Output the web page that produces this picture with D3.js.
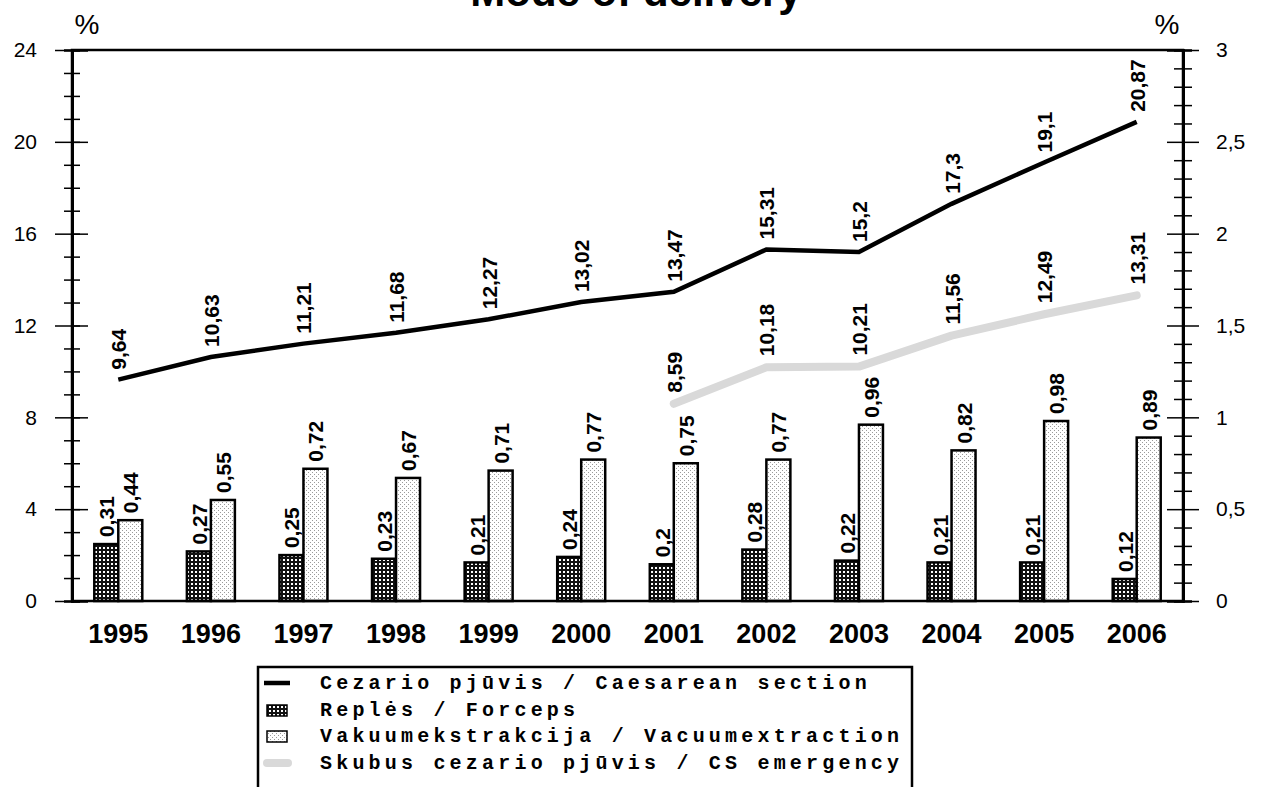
<!DOCTYPE html>
<html>
<head>
<meta charset="utf-8">
<script src="https://cdn.jsdelivr.net/npm/d3@7"></script>
<style>
  body { margin: 0; background: #fff; }
  svg { display: block; }
</style>
</head>
<body>
<div class="visHolder"></div>
<script>
// data
let years = ['1995','1996','1997','1998','1999','2000','2001','2002','2003','2004','2005','2006'];
let caesarean = [9.64, 10.63, 11.21, 11.68, 12.27, 13.02, 13.47, 15.31, 15.2, 17.3, 19.1, 20.87];
let emergency = [null, null, null, null, null, null, 8.59, 10.18, 10.21, 11.56, 12.49, 13.31];
let forceps = [0.31, 0.27, 0.25, 0.23, 0.21, 0.24, 0.2, 0.28, 0.22, 0.21, 0.21, 0.12];
let vacuum = [0.44, 0.55, 0.72, 0.67, 0.71, 0.77, 0.75, 0.77, 0.96, 0.82, 0.98, 0.89];
let leftTicks = [0, 4, 8, 12, 16, 20, 24];
let rightTicks = [0, 0.5, 1, 1.5, 2, 2.5, 3];
let legendLabels = [
  'Cezario pjūvis / Caesarean section',
  'Replės / Forceps',
  'Vakuumekstrakcija / Vacuumextraction',
  'Skubus cezario pjūvis / CS emergency'
];

let width = 1261;
let height = 787;
let plotL = 72, plotR = 1183, plotT = 50, plotB = 601;
let sans = 'Arial, "Liberation Sans", sans-serif';
let comma = d => String(d).replace('.', ',');

let svg = d3.select('.visHolder').append('svg')
  .attr('width', width)
  .attr('height', height);

let defs = svg.append('defs');
let pf = defs.append('pattern').attr('id', 'forceps')
  .attr('patternUnits', 'userSpaceOnUse').attr('width', 4).attr('height', 4);
pf.append('rect').attr('width', 4).attr('height', 4).attr('fill', '#fff');
pf.append('rect').attr('x', 1).attr('y', 0).attr('width', 2).attr('height', 4).attr('fill', '#111');
pf.append('rect').attr('x', 0).attr('y', 1).attr('width', 4).attr('height', 2).attr('fill', '#111');

let pv = defs.append('pattern').attr('id', 'vacuum')
  .attr('patternUnits', 'userSpaceOnUse').attr('width', 4).attr('height', 4);
pv.append('rect').attr('width', 4).attr('height', 4).attr('fill', '#fff');
pv.append('rect').attr('x', 0).attr('y', 0).attr('width', 1).attr('height', 1).attr('fill', '#9a9a9a');
pv.append('rect').attr('x', 2).attr('y', 2).attr('width', 1).attr('height', 1).attr('fill', '#9a9a9a');

// scales
let xScale = d3.scaleBand().domain(years).range([plotL, plotR]).padding(0);
let yLeft = d3.scaleLinear().domain([0, 24]).range([plotB, plotT]);
let yRight = d3.scaleLinear().domain([0, 3]).range([plotB, plotT]);
let cx = d => xScale(d) + xScale.bandwidth() / 2;
let barW = 24;

// title (cut off at the top like the source)
svg.append('text')
  .attr('x', 636).attr('y', 6)
  .attr('text-anchor', 'middle')
  .style('font', 'bold 42px ' + sans)
  .text('Mode of delivery');

svg.append('text').attr('x', 87).attr('y', 34).attr('text-anchor', 'middle')
  .style('font', '28px ' + sans).text('%');
svg.append('text').attr('x', 1167).attr('y', 34).attr('text-anchor', 'middle')
  .style('font', '28px ' + sans).text('%');

// bars
let bars = svg.append('g');
years.forEach((yr, i) => {
  bars.append('rect')
    .attr('x', cx(yr) - barW).attr('y', yRight(forceps[i]))
    .attr('width', barW).attr('height', plotB - yRight(forceps[i]))
    .attr('fill', 'url(#forceps)').attr('stroke', '#000').attr('stroke-width', 2.5);
  bars.append('rect')
    .attr('x', cx(yr)).attr('y', yRight(vacuum[i]))
    .attr('width', barW).attr('height', plotB - yRight(vacuum[i]))
    .attr('fill', 'url(#vacuum)').attr('stroke', '#000').attr('stroke-width', 2.5);
});

// lines
let line = d3.line()
  .defined(d => d.v != null)
  .x(d => cx(d.year))
  .y(d => yLeft(d.v));

svg.append('path')
  .datum(years.map((y, i) => ({ year: y, v: emergency[i] })))
  .attr('d', line)
  .attr('fill', 'none').attr('stroke', '#d9d9d9')
  .attr('stroke-width', 8).attr('stroke-linecap', 'round').attr('stroke-linejoin', 'round');

svg.append('path')
  .datum(years.map((y, i) => ({ year: y, v: caesarean[i] })))
  .attr('d', line)
  .attr('fill', 'none').attr('stroke', '#000')
  .attr('stroke-width', 4.5);

// data labels (rotated)
function vlabel(x, y, txt) {
  svg.append('text')
    .attr('transform', 'translate(' + (x + 8) + ',' + y + ') rotate(-90)')
    .style('font', 'bold 21px ' + sans)
    .text(txt);
}
years.forEach((yr, i) => {
  vlabel(cx(yr), yLeft(caesarean[i]) - 10, comma(caesarean[i]));
  if (emergency[i] != null) vlabel(cx(yr), yLeft(emergency[i]) - 11, comma(emergency[i]));
  vlabel(cx(yr) - barW / 2, yRight(forceps[i]) - 7, comma(forceps[i]));
  vlabel(cx(yr) + barW / 2, yRight(vacuum[i]) - 7, comma(vacuum[i]));
});

// frame
svg.append('rect')
  .attr('x', plotL).attr('y', plotT)
  .attr('width', plotR - plotL).attr('height', plotB - plotT)
  .attr('fill', 'none').attr('stroke', '#000').attr('stroke-width', 2.5);

// left axis
let minorL = d3.range(0, 24, 1).filter(v => v % 4 !== 0);
let gl = svg.append('g').attr('transform', 'translate(' + plotL + ',0)');
gl.call(d3.axisLeft(yLeft).tickValues(leftTicks).tickSizeInner(17).tickSizeOuter(0).tickPadding(18));
gl.append('g').call(d3.axisLeft(yLeft).tickValues(minorL).tickSize(8).tickFormat(''));
gl.append('g').call(d3.axisRight(yLeft).tickValues(d3.range(0, 24, 1)).tickSize(8).tickFormat(''));
gl.append('g').call(d3.axisRight(yLeft).tickValues(leftTicks.slice(1, -1)).tickSize(16).tickFormat(''));

// right axis
let minorR = d3.range(1, 30).filter(v => v % 5 !== 0).map(v => v / 10);
let gr = svg.append('g').attr('transform', 'translate(' + plotR + ',0)');
gr.call(d3.axisRight(yRight).tickValues(rightTicks).tickSizeInner(16).tickSizeOuter(0).tickPadding(17).tickFormat(comma));
gr.append('g').call(d3.axisRight(yRight).tickValues(minorR).tickSize(9).tickFormat(''));
gr.append('g').call(d3.axisLeft(yRight).tickValues(minorR).tickSize(9).tickFormat(''));
gr.append('g').call(d3.axisLeft(yRight).tickValues(rightTicks.slice(1, -1)).tickSize(16).tickFormat(''));

svg.selectAll('.tick line').attr('stroke', '#000').attr('stroke-width', 1.5);
svg.selectAll('.domain').attr('stroke', '#000').attr('stroke-width', 2.5);
gl.selectAll('text').style('font', '21px ' + sans).attr('fill', '#000');
gr.selectAll('text').style('font', '21px ' + sans).attr('fill', '#000');

// x axis labels
let gx = svg.append('g').attr('transform', 'translate(0,' + plotB + ')');
gx.call(d3.axisBottom(xScale).tickSize(0).tickPadding(23));
gx.select('.domain').remove();
gx.selectAll('text').style('font', 'bold 27px ' + sans).attr('fill', '#000');

// legend
let lg = svg.append('g').attr('transform', 'translate(258,667)');
lg.append('rect').attr('width', 654).attr('height', 140)
  .attr('fill', '#fff').attr('stroke', '#000').attr('stroke-width', 2.5);
let rowY = [16, 43, 69, 96];
lg.append('line').attr('x1', 6).attr('x2', 32).attr('y1', rowY[0]).attr('y2', rowY[0])
  .attr('stroke', '#000').attr('stroke-width', 4.5);
lg.append('rect').attr('x', 9).attr('y', rowY[1] - 5).attr('width', 20).attr('height', 11)
  .attr('fill', 'url(#forceps)').attr('stroke', '#000').attr('stroke-width', 1.5);
lg.append('rect').attr('x', 9).attr('y', rowY[2] - 5).attr('width', 20).attr('height', 11)
  .attr('fill', 'url(#vacuum)').attr('stroke', '#000').attr('stroke-width', 1.5);
lg.append('line').attr('x1', 9).attr('x2', 30).attr('y1', rowY[3]).attr('y2', rowY[3])
  .attr('stroke', '#d9d9d9').attr('stroke-width', 8).attr('stroke-linecap', 'round');

lg.selectAll('text.leg').data(legendLabels).enter().append('text')
  .attr('class', 'leg')
  .attr('x', 62)
  .attr('y', (d, i) => rowY[i] + 6)
  .style('font', 'bold 20px "Liberation Mono", "Courier New", monospace')
  .style('letter-spacing', '4.2px')
  .text(d => d);
</script>
</body>
</html>
